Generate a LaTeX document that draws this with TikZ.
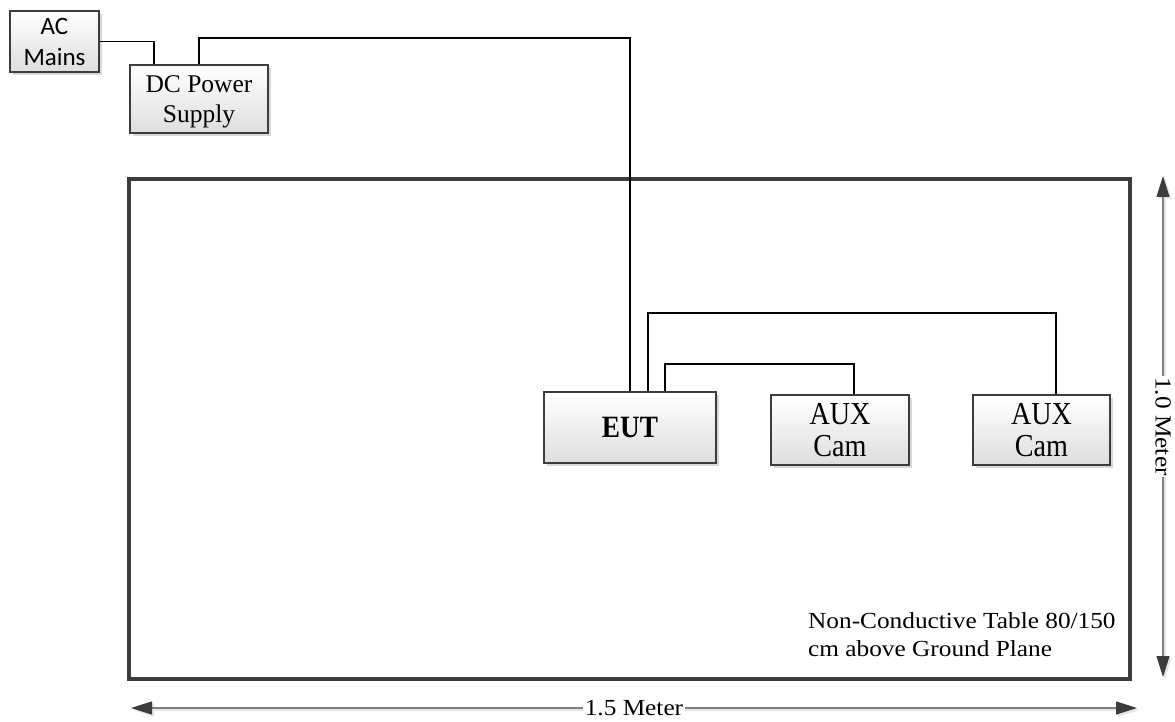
\documentclass[tikz,border=0pt]{standalone}
\usepackage{fontspec}
\setmainfont{Liberation Serif}
\newfontfamily\wideserif{Liberation Serif}[FakeStretch=1.1]
\newfontfamily\narrowserif{Liberation Serif}[FakeStretch=0.88]
\newfontfamily\acfont{Carlito}
\usetikzlibrary{arrows.meta,shadows}
\definecolor{boxline}{HTML}{3C3C3C}
\definecolor{dimline}{HTML}{808080}
\begin{document}
\begin{tikzpicture}[x=1pt,y=-1pt,
  box/.style={draw=boxline, line width=2pt, top color=white, bottom color=black!13,
    drop shadow={shadow xshift=3pt, shadow yshift=-3pt, fill=black!30, opacity=0.5},
    inner sep=0pt, align=center},
  wire/.style={line width=1.8pt, draw=black},
  tabframe/.style={draw=boxline, line width=3.5pt, inner sep=0pt},
  dimarrow/.style={draw=dimline, line width=1.1pt,
    {Triangle[length=21pt,width=13pt,color=boxline]}-{Triangle[length=21pt,width=13pt,color=boxline]}},
  dimshadow/.style={draw=black!10, line width=1.1pt,
    {Triangle[length=21pt,width=13pt,color=black!10]}-{Triangle[length=21pt,width=13pt,color=black!10]}},
  dimlabel/.style={fill=white, inner sep=1.5pt, font=\wideserif\fontsize{23}{27.5}\selectfont},
]
\useasboundingbox (0,0) rectangle (1175,722);

% table frame
\node[tabframe, minimum width=1001pt, minimum height=500pt] (table) at (629.5,429) {};

% boxes
\node[box, minimum width=89pt, minimum height=61pt, font=\acfont\fontsize{25}{31}\selectfont] (ac) at (54.5,41.5) {AC\\Mains};
\node[box, minimum width=138pt, minimum height=68pt, text depth=0pt, font=\fontsize{25.5}{29.3}\selectfont] (dc) at (199,99) {DC Power\\Supply};
\node[box, minimum width=172pt, minimum height=71pt, font=\narrowserif\fontsize{31}{34}\selectfont\bfseries] (eut) at (630,427.5) {EUT};
\node[box, minimum width=138pt, minimum height=70pt, font=\narrowserif\fontsize{32}{32}\selectfont] (aux1) at (840,430) {AUX\\Cam};
\node[box, minimum width=137pt, minimum height=70pt, font=\narrowserif\fontsize{32}{32}\selectfont] (aux2) at (1041.5,430) {AUX\\Cam};

% connectors
\draw[wire] (ac.east) -| ([xshift=-45pt]dc.north);
\draw[wire] (dc.north) -- ++(0,-26) -| (eut.north);
\draw[wire] ([xshift=18pt]eut.north) -- ++(0,-78) -| ([xshift=14.5pt]aux2.north);
\draw[wire] ([xshift=35pt]eut.north) -- ++(0,-27) -| ([xshift=14pt]aux1.north);

% table label
\node[anchor=base west, inner sep=0pt, font=\wideserif\fontsize{23}{27.5}\selectfont] (lbl) at (808,628.5)
  {\begin{tabular}[t]{@{}l@{}}Non-Conductive Table 80/150\\cm above Ground Plane\end{tabular}};

% dimension arrows
\coordinate (vtop) at (1163,176);
\coordinate (vbot) at (1163,677);
\coordinate (hl) at (131,708);
\coordinate (hr) at (1137,708);
\draw[dimshadow] ([xshift=2pt,yshift=-2pt]vtop) -- ([xshift=2pt,yshift=-2pt]vbot);
\draw[dimshadow] ([xshift=2pt,yshift=-2pt]hl) -- ([xshift=2pt,yshift=-2pt]hr);
\draw[dimarrow] (vtop) -- node[dimlabel, rotate=-90] (vlab) {1.0 Meter} (vbot);
\draw[dimarrow] (hl) -- node[dimlabel] (hlab) {1.5 Meter} (hr);
\end{tikzpicture}
\end{document}
